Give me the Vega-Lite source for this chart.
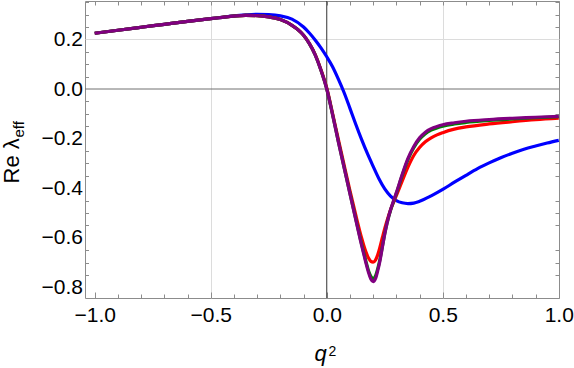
{
  "$schema": "https://vega.github.io/schema/vega-lite/v6.json",
  "width": 474,
  "height": 297,
  "autosize": {"type": "none"},
  "padding": {"left": 85, "top": 1, "right": 15, "bottom": 70},
  "background": "white",
  "config": {
    "view": {"stroke": "#8c8c8c", "strokeWidth": 1},
    "axis": {"labelFont": "Liberation Sans", "titleFont": "Liberation Sans", "labelColor": "#000", "titleColor": "#000", "titleFontWeight": "normal", "domain": false, "tickColor": "#8c8c8c", "tickWidth": 1}
  },
  "datasets": {
    "curves": [
      {"q2": -1.0, "re": 0.225, "s": "1"}, {"q2": -0.9, "re": 0.237, "s": "1"}, {"q2": -0.8, "re": 0.249, "s": "1"}, {"q2": -0.7, "re": 0.261, "s": "1"}, {"q2": -0.6, "re": 0.273, "s": "1"}, {"q2": -0.5, "re": 0.284, "s": "1"}, {"q2": -0.45, "re": 0.289, "s": "1"}, {"q2": -0.4, "re": 0.295, "s": "1"}, {"q2": -0.35, "re": 0.299, "s": "1"}, {"q2": -0.3, "re": 0.301, "s": "1"}, {"q2": -0.25, "re": 0.3, "s": "1"}, {"q2": -0.2, "re": 0.295, "s": "1"}, {"q2": -0.15, "re": 0.282, "s": "1"}, {"q2": -0.1, "re": 0.25, "s": "1"}, {"q2": -0.075, "re": 0.226, "s": "1"}, {"q2": -0.05, "re": 0.198, "s": "1"}, {"q2": -0.025, "re": 0.166, "s": "1"}, {"q2": 0, "re": 0.13, "s": "1"}, {"q2": 0.025, "re": 0.09, "s": "1"}, {"q2": 0.05, "re": 0.04, "s": "1"}, {"q2": 0.075, "re": -0.015, "s": "1"}, {"q2": 0.1, "re": -0.078, "s": "1"}, {"q2": 0.125, "re": -0.142, "s": "1"}, {"q2": 0.15, "re": -0.203, "s": "1"}, {"q2": 0.175, "re": -0.26, "s": "1"}, {"q2": 0.2, "re": -0.312, "s": "1"}, {"q2": 0.225, "re": -0.362, "s": "1"}, {"q2": 0.25, "re": -0.403, "s": "1"}, {"q2": 0.275, "re": -0.432, "s": "1"}, {"q2": 0.3, "re": -0.45, "s": "1"}, {"q2": 0.325, "re": -0.459, "s": "1"}, {"q2": 0.35, "re": -0.462, "s": "1"}, {"q2": 0.375, "re": -0.46, "s": "1"}, {"q2": 0.4, "re": -0.453, "s": "1"}, {"q2": 0.45, "re": -0.431, "s": "1"}, {"q2": 0.5, "re": -0.405, "s": "1"}, {"q2": 0.55, "re": -0.376, "s": "1"}, {"q2": 0.6, "re": -0.348, "s": "1"}, {"q2": 0.65, "re": -0.321, "s": "1"}, {"q2": 0.7, "re": -0.298, "s": "1"}, {"q2": 0.75, "re": -0.277, "s": "1"}, {"q2": 0.8, "re": -0.259, "s": "1"}, {"q2": 0.85, "re": -0.243, "s": "1"}, {"q2": 0.9, "re": -0.23, "s": "1"}, {"q2": 0.95, "re": -0.218, "s": "1"}, {"q2": 1.0, "re": -0.207, "s": "1"},

      {"q2": -1.0, "re": 0.225, "s": "2"}, {"q2": -0.9, "re": 0.237, "s": "2"}, {"q2": -0.8, "re": 0.249, "s": "2"}, {"q2": -0.7, "re": 0.261, "s": "2"}, {"q2": -0.6, "re": 0.273, "s": "2"}, {"q2": -0.5, "re": 0.284, "s": "2"}, {"q2": -0.45, "re": 0.289, "s": "2"}, {"q2": -0.4, "re": 0.294, "s": "2"}, {"q2": -0.35, "re": 0.297, "s": "2"}, {"q2": -0.3, "re": 0.296, "s": "2"}, {"q2": -0.25, "re": 0.291, "s": "2"}, {"q2": -0.2, "re": 0.28, "s": "2"}, {"q2": -0.15, "re": 0.257, "s": "2"}, {"q2": -0.125, "re": 0.24, "s": "2"}, {"q2": -0.1, "re": 0.217, "s": "2"}, {"q2": -0.075, "re": 0.184, "s": "2"}, {"q2": -0.05, "re": 0.14, "s": "2"}, {"q2": -0.025, "re": 0.078, "s": "2"}, {"q2": 0, "re": 0.004, "s": "2"}, {"q2": 0.025, "re": -0.098, "s": "2"}, {"q2": 0.05, "re": -0.203, "s": "2"}, {"q2": 0.075, "re": -0.307, "s": "2"}, {"q2": 0.1, "re": -0.41, "s": "2"}, {"q2": 0.125, "re": -0.508, "s": "2"}, {"q2": 0.15, "re": -0.6, "s": "2"}, {"q2": 0.16, "re": -0.632, "s": "2"}, {"q2": 0.17, "re": -0.66, "s": "2"}, {"q2": 0.18, "re": -0.682, "s": "2"}, {"q2": 0.19, "re": -0.695, "s": "2"}, {"q2": 0.2, "re": -0.698, "s": "2"}, {"q2": 0.21, "re": -0.69, "s": "2"}, {"q2": 0.22, "re": -0.668, "s": "2"}, {"q2": 0.23, "re": -0.635, "s": "2"}, {"q2": 0.24, "re": -0.598, "s": "2"}, {"q2": 0.25, "re": -0.562, "s": "2"}, {"q2": 0.26, "re": -0.53, "s": "2"}, {"q2": 0.275, "re": -0.487, "s": "2"}, {"q2": 0.29, "re": -0.452, "s": "2"}, {"q2": 0.3, "re": -0.43, "s": "2"}, {"q2": 0.325, "re": -0.372, "s": "2"}, {"q2": 0.35, "re": -0.315, "s": "2"}, {"q2": 0.375, "re": -0.268, "s": "2"}, {"q2": 0.4, "re": -0.236, "s": "2"}, {"q2": 0.425, "re": -0.213, "s": "2"}, {"q2": 0.45, "re": -0.197, "s": "2"}, {"q2": 0.475, "re": -0.185, "s": "2"}, {"q2": 0.5, "re": -0.176, "s": "2"}, {"q2": 0.55, "re": -0.162, "s": "2"}, {"q2": 0.6, "re": -0.153, "s": "2"}, {"q2": 0.7, "re": -0.141, "s": "2"}, {"q2": 0.8, "re": -0.132, "s": "2"}, {"q2": 0.9, "re": -0.124, "s": "2"}, {"q2": 1.0, "re": -0.118, "s": "2"},

      {"q2": -1.0, "re": 0.225, "s": "3"}, {"q2": -0.9, "re": 0.237, "s": "3"}, {"q2": -0.8, "re": 0.249, "s": "3"}, {"q2": -0.7, "re": 0.261, "s": "3"}, {"q2": -0.6, "re": 0.273, "s": "3"}, {"q2": -0.5, "re": 0.284, "s": "3"}, {"q2": -0.45, "re": 0.289, "s": "3"}, {"q2": -0.4, "re": 0.294, "s": "3"}, {"q2": -0.35, "re": 0.297, "s": "3"}, {"q2": -0.3, "re": 0.296, "s": "3"}, {"q2": -0.25, "re": 0.291, "s": "3"}, {"q2": -0.2, "re": 0.28, "s": "3"}, {"q2": -0.15, "re": 0.257, "s": "3"}, {"q2": -0.125, "re": 0.24, "s": "3"}, {"q2": -0.1, "re": 0.217, "s": "3"}, {"q2": -0.075, "re": 0.183, "s": "3"}, {"q2": -0.05, "re": 0.138, "s": "3"}, {"q2": -0.025, "re": 0.076, "s": "3"}, {"q2": 0, "re": 0.0, "s": "3"}, {"q2": 0.025, "re": -0.103, "s": "3"}, {"q2": 0.05, "re": -0.212, "s": "3"}, {"q2": 0.075, "re": -0.317, "s": "3"}, {"q2": 0.1, "re": -0.421, "s": "3"}, {"q2": 0.125, "re": -0.524, "s": "3"}, {"q2": 0.15, "re": -0.625, "s": "3"}, {"q2": 0.16, "re": -0.662, "s": "3"}, {"q2": 0.17, "re": -0.699, "s": "3"}, {"q2": 0.18, "re": -0.733, "s": "3"}, {"q2": 0.19, "re": -0.756, "s": "3"}, {"q2": 0.2, "re": -0.765, "s": "3"}, {"q2": 0.21, "re": -0.754, "s": "3"}, {"q2": 0.22, "re": -0.724, "s": "3"}, {"q2": 0.23, "re": -0.684, "s": "3"}, {"q2": 0.24, "re": -0.634, "s": "3"}, {"q2": 0.25, "re": -0.584, "s": "3"}, {"q2": 0.26, "re": -0.541, "s": "3"}, {"q2": 0.275, "re": -0.489, "s": "3"}, {"q2": 0.29, "re": -0.448, "s": "3"}, {"q2": 0.3, "re": -0.421, "s": "3"}, {"q2": 0.325, "re": -0.349, "s": "3"}, {"q2": 0.35, "re": -0.285, "s": "3"}, {"q2": 0.375, "re": -0.237, "s": "3"}, {"q2": 0.4, "re": -0.203, "s": "3"}, {"q2": 0.425, "re": -0.18, "s": "3"}, {"q2": 0.45, "re": -0.166, "s": "3"}, {"q2": 0.475, "re": -0.157, "s": "3"}, {"q2": 0.5, "re": -0.15, "s": "3"}, {"q2": 0.55, "re": -0.141, "s": "3"}, {"q2": 0.6, "re": -0.135, "s": "3"}, {"q2": 0.7, "re": -0.127, "s": "3"}, {"q2": 0.8, "re": -0.121, "s": "3"}, {"q2": 0.9, "re": -0.116, "s": "3"}, {"q2": 1.0, "re": -0.112, "s": "3"},

      {"q2": -1.0, "re": 0.225, "s": "4"}, {"q2": -0.9, "re": 0.237, "s": "4"}, {"q2": -0.8, "re": 0.249, "s": "4"}, {"q2": -0.7, "re": 0.261, "s": "4"}, {"q2": -0.6, "re": 0.273, "s": "4"}, {"q2": -0.5, "re": 0.284, "s": "4"}, {"q2": -0.45, "re": 0.289, "s": "4"}, {"q2": -0.4, "re": 0.294, "s": "4"}, {"q2": -0.35, "re": 0.297, "s": "4"}, {"q2": -0.3, "re": 0.296, "s": "4"}, {"q2": -0.25, "re": 0.291, "s": "4"}, {"q2": -0.2, "re": 0.28, "s": "4"}, {"q2": -0.15, "re": 0.257, "s": "4"}, {"q2": -0.125, "re": 0.24, "s": "4"}, {"q2": -0.1, "re": 0.217, "s": "4"}, {"q2": -0.075, "re": 0.183, "s": "4"}, {"q2": -0.05, "re": 0.138, "s": "4"}, {"q2": -0.025, "re": 0.076, "s": "4"}, {"q2": 0, "re": 0.0, "s": "4"}, {"q2": 0.025, "re": -0.103, "s": "4"}, {"q2": 0.05, "re": -0.213, "s": "4"}, {"q2": 0.075, "re": -0.318, "s": "4"}, {"q2": 0.1, "re": -0.423, "s": "4"}, {"q2": 0.125, "re": -0.527, "s": "4"}, {"q2": 0.15, "re": -0.63, "s": "4"}, {"q2": 0.16, "re": -0.668, "s": "4"}, {"q2": 0.17, "re": -0.706, "s": "4"}, {"q2": 0.18, "re": -0.74, "s": "4"}, {"q2": 0.19, "re": -0.766, "s": "4"}, {"q2": 0.2, "re": -0.777, "s": "4"}, {"q2": 0.21, "re": -0.765, "s": "4"}, {"q2": 0.22, "re": -0.732, "s": "4"}, {"q2": 0.23, "re": -0.69, "s": "4"}, {"q2": 0.24, "re": -0.637, "s": "4"}, {"q2": 0.25, "re": -0.585, "s": "4"}, {"q2": 0.26, "re": -0.54, "s": "4"}, {"q2": 0.275, "re": -0.487, "s": "4"}, {"q2": 0.29, "re": -0.445, "s": "4"}, {"q2": 0.3, "re": -0.418, "s": "4"}, {"q2": 0.325, "re": -0.345, "s": "4"}, {"q2": 0.35, "re": -0.28, "s": "4"}, {"q2": 0.375, "re": -0.232, "s": "4"}, {"q2": 0.4, "re": -0.197, "s": "4"}, {"q2": 0.425, "re": -0.174, "s": "4"}, {"q2": 0.45, "re": -0.16, "s": "4"}, {"q2": 0.475, "re": -0.151, "s": "4"}, {"q2": 0.5, "re": -0.144, "s": "4"}, {"q2": 0.55, "re": -0.136, "s": "4"}, {"q2": 0.6, "re": -0.13, "s": "4"}, {"q2": 0.7, "re": -0.123, "s": "4"}, {"q2": 0.8, "re": -0.118, "s": "4"}, {"q2": 0.9, "re": -0.114, "s": "4"}, {"q2": 1.0, "re": -0.11, "s": "4"}
    ]
  },
  "layer": [
    {
      "data": {"values": [{"q2": 0}]},
      "mark": {"type": "rule", "color": "#333333", "strokeWidth": 1},
      "encoding": {
        "x": {
          "field": "q2", "type": "quantitative",
          "scale": {"domain": [-1.042, 1.001], "nice": false, "zero": false},
          "axis": {
            "orient": "top",
            "values": [-1, -0.9, -0.8, -0.7, -0.6, -0.5, -0.4, -0.3, -0.2, -0.1, 0, 0.1, 0.2, 0.3, 0.4, 0.5, 0.6, 0.7, 0.8, 0.9, 1],
            "labels": false, "grid": false, "tickSize": -4,
            "title": "eff", "titleAngle": 270, "titleX": -62, "titleY": 136,
            "titleAlign": "left", "titleBaseline": "alphabetic", "titleFontSize": 15
          }
        }
      }
    },
    {
      "data": {"values": [{"re": 0}]},
      "mark": {"type": "rule", "color": "#707070", "strokeWidth": 1},
      "encoding": {
        "y": {
          "field": "re", "type": "quantitative",
          "scale": {"domain": [-0.843, 0.355], "nice": false, "zero": false},
          "axis": {
            "orient": "right",
            "values": [-0.8, -0.75, -0.7, -0.65, -0.6, -0.55, -0.5, -0.45, -0.4, -0.35, -0.3, -0.25, -0.2, -0.15, -0.1, -0.05, 0, 0.05, 0.1, 0.15, 0.2, 0.25, 0.3, 0.35],
            "labels": false, "grid": false, "tickSize": -4,
            "tickOpacity": {"condition": {"test": "abs(datum.value*5 - round(datum.value*5)) < 0.001", "value": 0}, "value": 1},
            "title": "2", "titleAngle": 0, "titleX": -231, "titleY": 354,
            "titleAlign": "left", "titleBaseline": "alphabetic", "titleFontSize": 14
          }
        }
      }
    },
    {
      "data": {"name": "curves"},
      "mark": {"type": "line", "strokeWidth": 3.2, "interpolate": "monotone"},
      "encoding": {
        "x": {
          "field": "q2", "type": "quantitative",
          "scale": {"domain": [-1.042, 1.001], "nice": false, "zero": false},
          "axis": {
            "orient": "bottom",
            "values": [-1, -0.9, -0.8, -0.7, -0.6, -0.5, -0.4, -0.3, -0.2, -0.1, 0, 0.1, 0.2, 0.3, 0.4, 0.5, 0.6, 0.7, 0.8, 0.9, 1],
            "format": ".1f",
            "labelExpr": "abs(datum.value*2 - round(datum.value*2)) < 0.001 ? datum.label : ''",
            "labelFontSize": 21, "labelPadding": 12, "labelFlush": false, "labelOverlap": false, "labelBound": false,
            "tickSize": {"condition": {"test": "abs(datum.value*2 - round(datum.value*2)) < 0.001", "value": -6}, "value": -4},
            "grid": true, "gridColor": "#dcdcdc", "gridWidth": 1,
            "gridOpacity": {"condition": {"test": "abs(abs(datum.value) - 0.5) < 0.001", "value": 1}, "value": 0},
            "title": "q", "titleFontStyle": "italic", "titleFontSize": 22,
            "titleX": 229, "titleY": 62, "titleAlign": "left", "titleBaseline": "alphabetic"
          }
        },
        "y": {
          "field": "re", "type": "quantitative",
          "scale": {"domain": [-0.843, 0.355], "nice": false, "zero": false},
          "axis": {
            "orient": "left",
            "values": [-0.8, -0.75, -0.7, -0.65, -0.6, -0.55, -0.5, -0.45, -0.4, -0.35, -0.3, -0.25, -0.2, -0.15, -0.1, -0.05, 0, 0.05, 0.1, 0.15, 0.2, 0.25, 0.3, 0.35],
            "format": ".1f",
            "labelExpr": "abs(datum.value*5 - round(datum.value*5)) < 0.001 ? datum.label : ''",
            "labelFontSize": 21, "labelPadding": 6, "labelFlush": false, "labelOverlap": false, "labelBound": false,
            "tickSize": -3.5,
            "tickOpacity": {"condition": {"test": "abs(datum.value*5 - round(datum.value*5)) < 0.001", "value": 0}, "value": 1},
            "grid": true, "gridColor": "#dcdcdc", "gridWidth": 1,
            "gridOpacity": {"condition": {"test": "abs(datum.value - 0.2) < 0.001", "value": 1}, "value": 0},
            "title": "Re λ", "titleAngle": 270, "titleX": -67, "titleY": 182,
            "titleAlign": "left", "titleBaseline": "alphabetic", "titleFontSize": 22
          }
        },
        "color": {
          "field": "s", "type": "nominal",
          "scale": {"domain": ["1", "2", "3", "4"], "range": ["#0000ff", "#ff0000", "#008000", "#800080"]},
          "legend": null
        }
      }
    }
  ],
  "resolve": {"axis": {"x": "independent", "y": "independent"}}
}
